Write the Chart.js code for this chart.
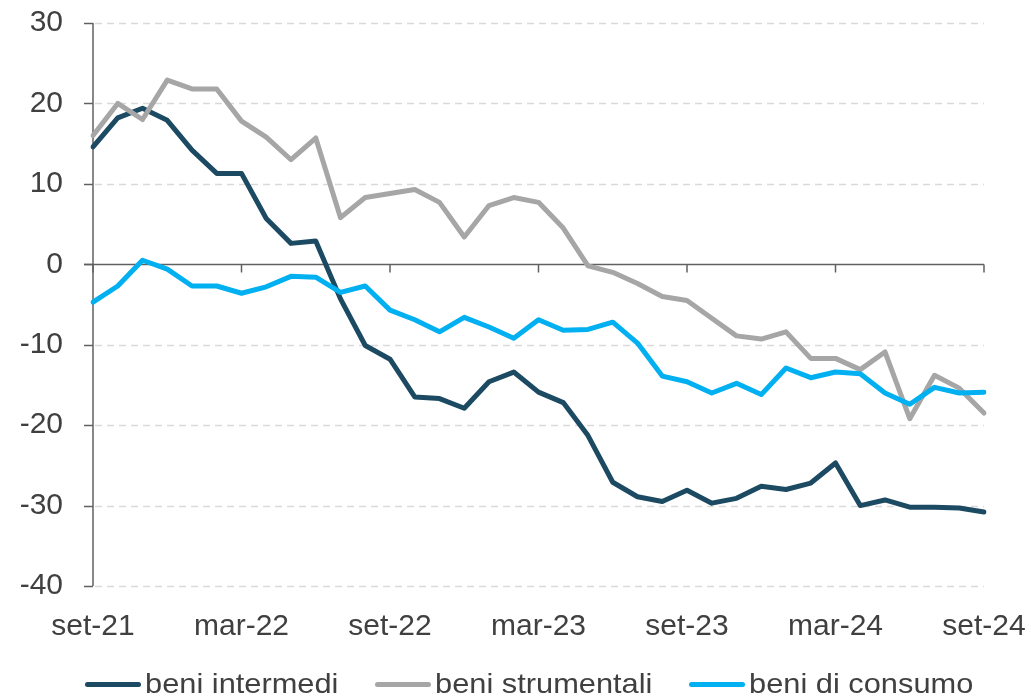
<!DOCTYPE html>
<html>
<head>
<meta charset="utf-8">
<script src="https://cdn.jsdelivr.net/npm/chart.js@4/dist/chart.umd.min.js"></script>
<style>
  html, body { margin: 0; padding: 0; background: #ffffff; }
  #wrap { position: relative; width: 1031px; height: 697px; }
  #c { position: absolute; left: 0; top: 0; }
  #legend { position: absolute; left: 0; top: 0; width: 1031px; height: 697px; pointer-events: none;
    font-family: "Liberation Sans", Arial, sans-serif; font-size: 28px; color: #404040; }
  .item { position: absolute; top: 667px; height: 34px; display: flex; align-items: center; white-space: nowrap; }
  .swatch { width: 56px; height: 5px; border-radius: 3px; margin-right: 4px; }
  .txt { display: inline-block; transform: scaleX(1.1); transform-origin: left center; }
</style>
</head>
<body>
<div id="wrap">
  <canvas id="c" width="1031" height="697"></canvas>
  <div id="legend"></div>
</div>
<script>
// monthly categories from set-21 to set-24
const categories = [
  "set-21","ott-21","nov-21","dic-21","gen-22","feb-22","mar-22","apr-22","mag-22","giu-22","lug-22","ago-22",
  "set-22","ott-22","nov-22","dic-22","gen-23","feb-23","mar-23","apr-23","mag-23","giu-23","lug-23","ago-23",
  "set-23","ott-23","nov-23","dic-23","gen-24","feb-24","mar-24","apr-24","mag-24","giu-24","lug-24","ago-24",
  "set-24"
];
const tickLabels = ["set-21","mar-22","set-22","mar-23","set-23","mar-24","set-24"];

const beniIntermedi = [
  14.6, 18.2, 19.4, 17.9, 14.2, 11.3, 11.3, 5.7, 2.6, 2.9, -4.3, -10.1,
  -11.8, -16.5, -16.7, -17.9, -14.6, -13.4, -15.9, -17.2, -21.3, -27.1, -28.9, -29.5,
  -28.1, -29.7, -29.1, -27.6, -28.0, -27.2, -24.7, -30.0, -29.3, -30.2, -30.2, -30.3,
  -30.8
];
const beniStrumentali = [
  16.0, 20.0, 18.0, 22.9, 21.8, 21.8, 17.8, 15.8, 13.0, 15.7, 5.8, 8.3,
  8.8, 9.3, 7.7, 3.4, 7.3, 8.3, 7.7, 4.5, -0.2, -1.0, -2.4, -4.0,
  -4.5, -6.7, -8.9, -9.3, -8.4, -11.7, -11.7, -13.1, -10.9, -19.2, -13.8, -15.4,
  -18.5
];
const beniConsumo = [
  -4.7, -2.7, 0.5, -0.6, -2.7, -2.7, -3.6, -2.8, -1.5, -1.6, -3.5, -2.7,
  -5.7, -6.9, -8.4, -6.6, -7.8, -9.2, -6.9, -8.2, -8.1, -7.2, -9.8, -13.9,
  -14.6, -16.0, -14.8, -16.2, -12.9, -14.1, -13.4, -13.6, -16.0, -17.4, -15.3, -16.0,
  -15.9
];
const seriesNames = ["beni intermedi", "beni strumentali", "beni di consumo"];
const seriesColors = ["#1c4a62", "#a6a6a6", "#00b0f0"];
const yTicks = [30, 20, 10, 0, -10, -20, -30, -40];

const FONT = '"Liberation Sans", Arial, sans-serif';
const TEXT = '#404040';
const AXIS = '#606060';

const axesPlugin = {
  id: 'axesPlugin',
  beforeDatasetsDraw(chart) {
    const ctx = chart.ctx;
    const x = chart.scales.x, y = chart.scales.y;
    const left = chart.chartArea.left, right = chart.chartArea.right;
    ctx.save();
    ctx.lineWidth = 1.5;
    ctx.strokeStyle = '#d9d9d9';
    ctx.setLineDash([7, 5]);
    yTicks.forEach(v => {
      if (v === 0) return;
      const py = Math.round(y.getPixelForValue(v)) + 0.5;
      ctx.beginPath(); ctx.moveTo(left + 2, py); ctx.lineTo(right, py); ctx.stroke();
    });
    ctx.setLineDash([]);
    ctx.strokeStyle = AXIS;
    ctx.lineWidth = 1.5;
    const top = y.getPixelForValue(30), bot = y.getPixelForValue(-40);
    ctx.beginPath(); ctx.moveTo(left, top); ctx.lineTo(left, bot); ctx.stroke();
    yTicks.forEach(v => {
      const py = Math.round(y.getPixelForValue(v)) + 0.5;
      ctx.beginPath(); ctx.moveTo(left - 9, py); ctx.lineTo(left, py); ctx.stroke();
    });
    const zy = Math.round(y.getPixelForValue(0)) + 0.5;
    ctx.beginPath(); ctx.moveTo(left - 9, zy); ctx.lineTo(right, zy); ctx.stroke();
    categories.forEach((c, i) => {
      if (tickLabels.indexOf(c) < 0) return;
      const px = x.getPixelForValue(i);
      ctx.beginPath(); ctx.moveTo(px, zy); ctx.lineTo(px, zy + 8); ctx.stroke();
    });
    ctx.restore();
  }
};

const datasets = [beniIntermedi, beniStrumentali, beniConsumo].map((d, i) => ({
  label: seriesNames[i],
  data: d,
  borderColor: seriesColors[i],
  backgroundColor: seriesColors[i],
  borderWidth: 5,
  pointRadius: 0,
  tension: 0,
  borderCapStyle: 'round',
  borderJoinStyle: 'round',
  order: 2 - i
}));

new Chart(document.getElementById('c'), {
  type: 'line',
  data: { labels: categories, datasets },
  options: {
    responsive: false,
    animation: false,
    devicePixelRatio: 1,
    layout: { padding: { left: 0, right: 47, top: 23, bottom: 0 } },
    plugins: { legend: { display: false }, tooltip: { enabled: false } },
    scales: {
      x: {
        type: 'category',
        offset: false,
        grid: { display: false, drawTicks: false },
        border: { display: false },
        afterFit(s) { s.height = 111; s.paddingLeft = 0; s.paddingRight = 0; },
        ticks: {
          autoSkip: false, maxRotation: 0, minRotation: 0, padding: 23,
          color: TEXT, font: { family: FONT, size: 30 },
          callback(v, i) { const l = categories[i]; return tickLabels.indexOf(l) >= 0 ? l : ''; }
        }
      },
      y: {
        min: -40, max: 30,
        grid: { display: false, drawTicks: false },
        border: { display: false },
        afterFit(s) { s.width = 93; s.paddingTop = 0; s.paddingBottom = 0; },
        ticks: { stepSize: 10, padding: 30, color: TEXT, font: { family: FONT, size: 30 } }
      }
    }
  },
  plugins: [axesPlugin]
});

const legendStarts = [85, 375, 689];
const lg = document.getElementById('legend');
seriesNames.forEach((n, i) => {
  const it = document.createElement('div'); it.className = 'item'; it.style.left = legendStarts[i] + 'px';
  const sw = document.createElement('div'); sw.className = 'swatch'; sw.style.background = seriesColors[i];
  const t = document.createElement('span'); t.className = 'txt'; t.textContent = n;
  it.appendChild(sw); it.appendChild(t); lg.appendChild(it);
});
</script>
</body>
</html>
